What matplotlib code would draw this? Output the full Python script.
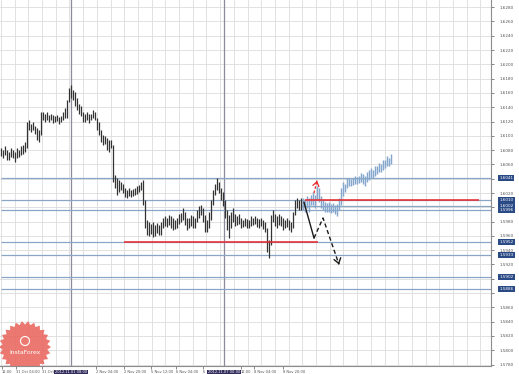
import numpy as np
import matplotlib
matplotlib.use("Agg")
import matplotlib.pyplot as plt
import matplotlib.transforms as mtransforms
from matplotlib.patches import Polygon, Circle

# hourly-ish bars, GBP/USD
hist_high = [1.6083, 1.6080, 1.6086, 1.6080, 1.6077, 1.6083, 1.6080, 1.6077, 1.6083, 1.6080, 1.6086, 1.6087, 1.6091,
             1.6119, 1.6122, 1.6116, 1.6119, 1.6114, 1.6111, 1.6108, 1.6133,
             1.6133, 1.6130, 1.6133, 1.6129, 1.6130, 1.6129, 1.6128, 1.6129, 1.6126, 1.6128, 1.6133, 1.6139,
             1.6150, 1.6167, 1.6171, 1.6164, 1.6161, 1.6153, 1.6144, 1.6142,
             1.6133, 1.6130, 1.6133, 1.6130, 1.6130, 1.6136, 1.6133,
             1.6125, 1.6119, 1.6108, 1.6101, 1.6100, 1.6097, 1.6094, 1.6094,
             1.6087, 1.6045, 1.6041, 1.6038, 1.6035, 1.6032, 1.6027, 1.6024, 1.6027, 1.6024, 1.6025, 1.6027, 1.6030, 1.6031, 1.6035, 1.6038,
             1.6010, 1.5982, 1.5979, 1.5976, 1.5979, 1.5975, 1.5978, 1.5975, 1.5979,
             1.5985, 1.5988, 1.5985, 1.5989, 1.5988, 1.5985, 1.5982, 1.5985, 1.5990, 1.5992, 1.5999, 1.5993, 1.5985, 1.5985, 1.5989, 1.5988, 1.5985,
             1.5996, 1.6002, 1.6003, 1.5999, 1.5989, 1.5982, 1.5993, 1.6010, 1.6024, 1.6032, 1.6041, 1.6035, 1.6027, 1.6021, 1.6010, 1.5996, 1.5989, 1.5993, 1.5999,
             1.5990, 1.5988, 1.5990, 1.5985, 1.5982, 1.5985, 1.5983, 1.5982, 1.5988, 1.5985, 1.5988, 1.5985, 1.5983, 1.5985, 1.5982, 1.5979,
             1.5971, 1.5954, 1.5989, 1.5996, 1.5990, 1.5988, 1.5990, 1.5988, 1.5985, 1.5982, 1.5985, 1.5982, 1.5979, 1.5993, 1.6010, 1.6013, 1.6010, 1.6013, 1.6010]
hist_low = [1.6072, 1.6069, 1.6073, 1.6066, 1.6066, 1.6070, 1.6069, 1.6063, 1.6069, 1.6070, 1.6073, 1.6074, 1.6077,
            1.6083, 1.6108, 1.6105, 1.6108, 1.6102, 1.6094, 1.6091, 1.6101,
            1.6122, 1.6119, 1.6122, 1.6119, 1.6122, 1.6118, 1.6119, 1.6121, 1.6116, 1.6119, 1.6122, 1.6125,
            1.6125, 1.6147, 1.6153, 1.6150, 1.6142, 1.6136, 1.6130, 1.6128,
            1.6119, 1.6119, 1.6122, 1.6118, 1.6122, 1.6125, 1.6122,
            1.6108, 1.6101, 1.6091, 1.6087, 1.6088, 1.6080, 1.6077, 1.6083,
            1.6035, 1.6027, 1.6017, 1.6021, 1.6024, 1.6020, 1.6014, 1.6013, 1.6016, 1.6014, 1.6016, 1.6017, 1.6018, 1.6021, 1.6024, 1.6003,
            1.5971, 1.5961, 1.5960, 1.5962, 1.5958, 1.5960, 1.5964, 1.5961, 1.5961,
            1.5971, 1.5974, 1.5972, 1.5975, 1.5971, 1.5968, 1.5970, 1.5971, 1.5976, 1.5979, 1.5982, 1.5975, 1.5968, 1.5971, 1.5974, 1.5971, 1.5971,
            1.5979, 1.5985, 1.5989, 1.5979, 1.5965, 1.5965, 1.5971, 1.5982, 1.6003, 1.6017, 1.6024, 1.6020, 1.6010, 1.6002, 1.5985, 1.5968, 1.5957, 1.5971, 1.5979,
            1.5974, 1.5975, 1.5976, 1.5971, 1.5972, 1.5974, 1.5971, 1.5971, 1.5974, 1.5975, 1.5976, 1.5972, 1.5971, 1.5974, 1.5970, 1.5965,
            1.5937, 1.5929, 1.5947, 1.5979, 1.5974, 1.5971, 1.5975, 1.5974, 1.5968, 1.5971, 1.5972, 1.5968, 1.5965, 1.5971, 1.5989, 1.5999, 1.5996, 1.5996, 1.5999]

# forecast bars (light blue), first one sits on bar 151
fc_start = 151
fc_high = [1.6013, 1.6010, 1.6016, 1.6013, 1.6017, 1.6021, 1.6017, 1.6030, 1.6027, 1.6016,
           1.6010, 1.6007, 1.6006, 1.6007, 1.6004, 1.6006, 1.6003, 1.6004, 1.6013, 1.6027,
           1.6035, 1.6032, 1.6041, 1.6041, 1.6039, 1.6041, 1.6044, 1.6042, 1.6044, 1.6048,
           1.6046, 1.6044, 1.6049, 1.6052, 1.6055, 1.6052, 1.6058, 1.6058, 1.6062, 1.6060,
           1.6066, 1.6066, 1.6072, 1.6069, 1.6074]
fc_low = [1.5996, 1.5993, 1.5999, 1.5993, 1.6003, 1.6003, 1.5999, 1.6010, 1.6007, 1.5999,
          1.5996, 1.5993, 1.5994, 1.5993, 1.5992, 1.5993, 1.5990, 1.5988, 1.5996, 1.6003,
          1.6016, 1.6021, 1.6027, 1.6030, 1.6030, 1.6031, 1.6032, 1.6032, 1.6034, 1.6035,
          1.6032, 1.6030, 1.6035, 1.6038, 1.6041, 1.6041, 1.6044, 1.6046, 1.6049, 1.6049,
          1.6052, 1.6055, 1.6058, 1.6058, 1.6060]

# horizontal levels (blue lines with price tags on the right)
levels = [1.6041, 1.6010, 1.6002, 1.5996, 1.5952, 1.5933, 1.5902, 1.5886]
level_from = [0, 0, 150, 0, 0, 0, 0, 0]
# red support / resistance segments: (price, first bar, last bar)
red_lines = [(1.6010, 152, 239), (1.5952, 61.5, 158.5)]
# scenario arrows (bar, price)
bear_path = [(151.5, 1.6007), (156.5, 1.5957), (161, 1.5985), (169, 1.5920)]
bull_path = [(156.5, 1.6020), (158, 1.6037)]

# time axis (labels partly hidden under the tags in the original are cut short)
time_pos = [0.5, 7.5, 20.5, 47.5, 61.5, 75, 87.5, 101, 120, 126.5, 141]
time_labels = ["12:00", "31 Oct 04:00", "31 Oct", "2 Nov 04:00", "2 Nov 20:00", "5 Nov 12:00",
               "6 Nov 04:00", "6", "12:00", "8 Nov 04:00", "8 Nov 20:00"]
vline_pos = [35, 111.5]
vline_labels = ["2012.11.01 08:00", "2012.11.07 00:00"]

W, H = 519, 374
fig = plt.figure(figsize=(W / 100, H / 100), dpi=100, facecolor="white")
ax = fig.add_axes([0, 8 / H, 491 / W, 1 - 8 / H])
ax.set_facecolor("white")
ax.set_xlim(-0.5, 245)
ax.set_ylim(1.5778, 1.6290)

yt = np.arange(1.5780, 1.62801, 0.002)
ax.set_yticks(yt)
# tick labels sitting under a price tag are hidden by it
ax.set_yticklabels(["" if min(abs(v - lv) for lv in levels) < 0.00065 else "%.4f" % v for v in yt])
ax.yaxis.tick_right()
ax.tick_params(axis="y", labelsize=3, length=2.5, width=0.5, colors="#555555", pad=4)
ax.set_xticks(time_pos)
ax.set_xticklabels(time_labels)
for lab in ax.get_xticklabels():
    lab.set_ha("left")
ax.tick_params(axis="x", labelsize=2.6, length=2, width=0.5, colors="#555555", pad=1)
ax.set_xticks(np.arange(0, 245, 6.85), minor=True)
ax.tick_params(axis="x", which="minor", length=0)
ax.grid(axis="y", which="major", color="#dcdcdc", lw=0.6)
ax.grid(axis="x", which="minor", color="#dcdcdc", lw=0.6)
ax.grid(axis="x", which="major", visible=False)
ax.set_axisbelow(True)
for s in ["top", "left"]:
    ax.spines[s].set_visible(False)
for s in ["right", "bottom"]:
    ax.spines[s].set_color("#8c8c8c")
    ax.spines[s].set_linewidth(0.8)

for xv in vline_pos:
    ax.axvline(xv, color="#8d8a9c", lw=0.9, zorder=1)

for lv, x0 in zip(levels, level_from):
    ax.hlines(lv, x0, 245, color="#8aa6c6", lw=0.9, zorder=2)
    ax.text(1.017, lv, "%.4f" % lv, transform=ax.get_yaxis_transform(), fontsize=3, color="white",
            va="center", ha="left", clip_on=False,
            bbox=dict(boxstyle="square,pad=0.25", fc="#2a4a86", ec="none"))

hist_x = np.arange(len(hist_high))
ax.vlines(hist_x, hist_low, hist_high, color="#333333", lw=0.9, zorder=3)
fc_x = np.arange(fc_start, fc_start + len(fc_high))
ax.vlines(fc_x, fc_low, fc_high, color="#86a7cd", lw=1.05, zorder=4)

for price, x0, x1 in red_lines:
    ax.hlines(price, x0, x1, color="#e8262b", lw=1.1, zorder=5)

bx = [p[0] for p in bear_path]
by = [p[1] for p in bear_path]
ax.plot(bx[:2], by[:2], color="#1a1a1a", lw=1.0, zorder=6)
ax.plot(bx[1:], by[1:], color="#1a1a1a", lw=1.0, ls=(0, (3, 2)), zorder=6)
ax.annotate("", xy=bear_path[-1], xytext=(bx[-1] - 0.6, by[-1] + 0.0006),
            arrowprops=dict(arrowstyle="->,head_length=0.35,head_width=0.25", color="#1a1a1a", lw=1.0), zorder=6)

rx = [p[0] for p in bull_path]
ry = [p[1] for p in bull_path]
ax.plot(rx, ry, color="#e8262b", lw=0.9, ls=(0, (2, 1.5)), zorder=6)
ax.annotate("", xy=bull_path[-1], xytext=(rx[-1] - 0.3, ry[-1] - 0.0004),
            arrowprops=dict(arrowstyle="->,head_length=0.3,head_width=0.22", color="#e8262b", lw=0.9), zorder=6)

# highlighted time tags of the vertical lines
for xv, txt in zip(vline_pos, vline_labels):
    ax.text(xv, -0.012, txt, transform=ax.get_xaxis_transform(), fontsize=2.6, color="white",
            ha="center", va="top", clip_on=False, zorder=7,
            bbox=dict(boxstyle="square,pad=0.15", fc="#322c5c", ec="none"))

# InstaForex badge, bottom left (pixel coordinates)
ident = mtransforms.IdentityTransform()
cx, cy = 25, H - 347
n = 26
ang = np.linspace(0, 2 * np.pi, 2 * n, endpoint=False)
rad = np.where(np.arange(2 * n) % 2 == 0, 26, 22.5)
star = Polygon(np.column_stack([cx + rad * np.cos(ang), cy + rad * np.sin(ang)]),
               closed=True, fc="#ea6a62", ec="none", alpha=0.9, transform=ident, zorder=8)
star.set_clip_box(ax.bbox)
fig.add_artist(star)
ring = Circle((cx, cy + 6), 4.5, fc="none", ec="white", lw=0.8, transform=ident, zorder=9)
fig.add_artist(ring)
fig.text(cx / W, (cy - 5) / H, "InstaForex", fontsize=4.3, color="white", ha="center", va="center", zorder=9)

fig.savefig("out.png", dpi=100, facecolor="white")
